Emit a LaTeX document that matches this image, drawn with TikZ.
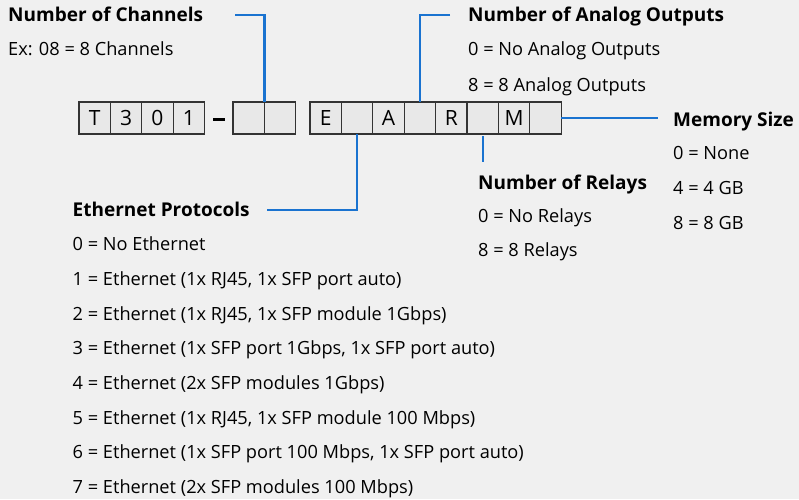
\documentclass[tikz,border=0pt]{standalone}
\usepackage{fontspec}
\setmainfont{Open Sans}
\usetikzlibrary{positioning}
\definecolor{bg}{HTML}{F0F0F0}
\definecolor{cell}{HTML}{E8E8E8}
\definecolor{wire}{HTML}{1A73D0}
\tikzset{
cellbox/.style={draw=black!80,fill=cell,line width=1.2pt,outer sep=0pt,inner sep=0pt,
  minimum width=31.4pt,minimum height=32pt,font=\fontsize{21}{22}\selectfont},
head/.style={anchor=west,inner sep=0pt,text height=13.5pt,text depth=0pt,
  font=\bfseries\fontsize{19}{20}\selectfont},
item/.style={anchor=base west,inner sep=0pt,font=\fontsize{18.2}{20}\selectfont},
wire/.style={draw=wire,line width=2.2pt}
}
\begin{document}
\begin{tikzpicture}[x=1pt,y=-1pt]
\useasboundingbox(0,0)rectangle(799,499);
\fill[bg](0,0)rectangle(799,499);
% part number cells
\foreach \l [count=\i] in {T,3,0,1}
\node[cellbox](p\i)at(63.3+31.4*\i,118){\l};
\node[inner sep=0pt](dash)at(219,119.3){\rule{12pt}{2.6pt}};
\foreach \i in {1,2}
\node[cellbox](c\i)at(217.3+31.4*\i,118){};
\foreach \l [count=\i] in {E,{},A,{},R,{},M,{}}
\node[cellbox](x\i)at(294.3+31.4*\i,118){\l};
% headings
\node[head](chhead)at(8,15){Number of Channels};
\node[head](anhead)at(468,15.2){Number of Analog Outputs};
\node[head](memhead)at(673,119.3){Memory Size};
\node[head](relhead)at(478,182.5){Number of Relays};
\node[head](ethhead)at(72.5,210){Ethernet Protocols};
% values
\node[item](ch0)at(8,55){Ex: 08 = 8 Channels};
\node[item](an0)at(468,55.7){0 = No Analog Outputs};
\node[item](an8)at(468,91){8 = 8 Analog Outputs};
\node[item](mem0)at(673,159.3){0 = None};
\node[item](mem4)at(673,194.3){4 = 4 GB};
\node[item](mem8)at(673,229){8 = 8 GB};
\node[item](rel0)at(478,222.7){0 = No Relays};
\node[item](rel8)at(478,256.7){8 = 8 Relays};
\node[item](eth0)at(72.5,250.7){0 = No Ethernet};
\foreach \t [count=\i] in {{1x RJ45, 1x SFP port auto},{1x RJ45, 1x SFP module 1Gbps},
{1x SFP port 1Gbps, 1x SFP port auto},{2x SFP modules 1Gbps},
{1x RJ45, 1x SFP module 100 Mbps},{1x SFP port 100 Mbps, 1x SFP port auto},
{2x SFP modules 100 Mbps}}
\node[item](eth\i)at(72.5,250.7+34.7*\i){\i{} = Ethernet (\t)};
% connectors
\draw[wire]([xshift=32pt]chhead.east)-|(c1.north east);
\draw[wire]([xshift=-18pt]anhead.west)-|(x4.north);
\draw[wire](x8.east)--([xshift=-15pt]x8.east-|memhead.west);
\draw[wire]([yshift=-2pt]x6.south)--([yshift=14pt]x6.south|-relhead.north);
\draw[wire](x2.south)|-([xshift=17pt]ethhead.east);
\end{tikzpicture}
\end{document}
